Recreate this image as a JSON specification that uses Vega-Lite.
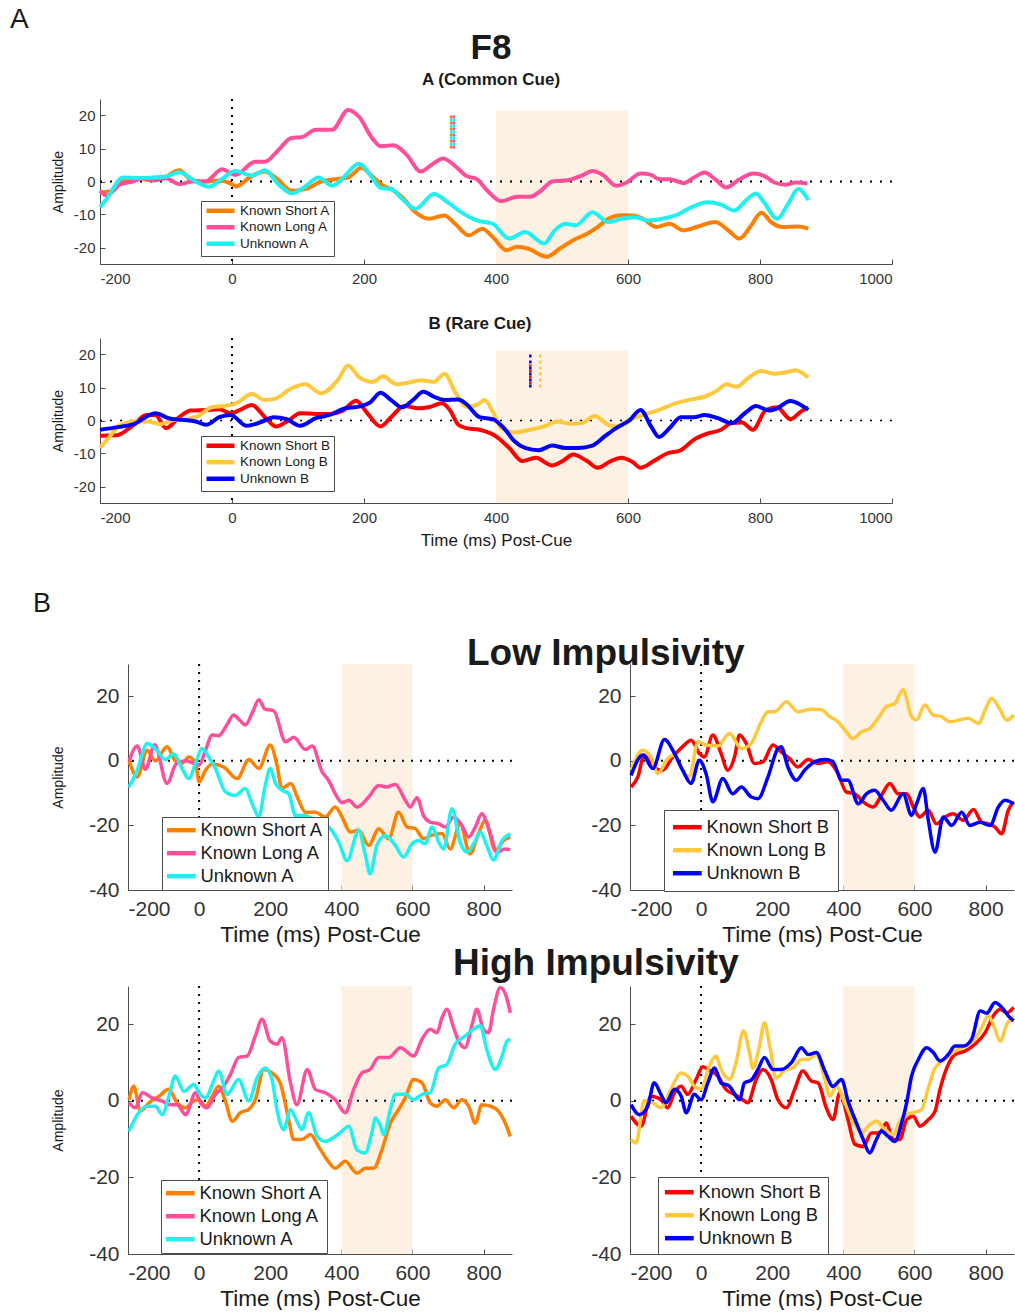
{
"$schema": "https://vega.github.io/schema/vega-lite/v6.json",
"background": "white",
"padding": {"left": 10, "top": 6, "right": 0, "bottom": 0},
"title": {"text": "A", "anchor": "start", "fontSize": 28, "fontWeight": "normal", "dx": 0, "offset": -3},
"config": {
  "font": "Liberation Sans",
  "view": {"stroke": null},
  "title": {"font": "Liberation Sans", "color": "#1a1a1a", "subtitleFont": "Liberation Sans", "subtitleColor": "#1a1a1a"},
  "axis": {"domainColor": "#4d4d4d", "tickColor": "#4d4d4d", "labelColor": "#333333", "titleColor": "#1a1a1a", "labelFont": "Liberation Sans", "titleFont": "Liberation Sans", "titleFontWeight": "normal", "grid": false, "tickSize": -5, "zindex": 1, "labelExpr": "'' + datum.value"},
  "legend": {"labelFont": "Liberation Sans", "labelColor": "#1a1a1a", "fillColor": "white", "strokeColor": "#4d4d4d", "orient": "none", "title": null},
  "line": {"interpolate": "monotone"}
},
"datasets": {
"a1": [
{"c":"Known Short A","t":-200,"v":-3.3},{"c":"Known Short A","t":-185,"v":-3},{"c":"Known Short A","t":-170,"v":-0.5},{"c":"Known Short A","t":-145,"v":1},{"c":"Known Short A","t":-125,"v":0.5},{"c":"Known Short A","t":-105,"v":1},{"c":"Known Short A","t":-80,"v":3.4},{"c":"Known Short A","t":-60,"v":0.3},{"c":"Known Short A","t":-40,"v":0},{"c":"Known Short A","t":-20,"v":0.3},{"c":"Known Short A","t":0,"v":-0.8},{"c":"Known Short A","t":6,"v":-1.5},{"c":"Known Short A","t":30,"v":1.7},{"c":"Known Short A","t":50,"v":3},{"c":"Known Short A","t":67,"v":1},{"c":"Known Short A","t":91,"v":-2.8},{"c":"Known Short A","t":111,"v":-2.3},{"c":"Known Short A","t":135,"v":0},{"c":"Known Short A","t":160,"v":0.8},{"c":"Known Short A","t":176,"v":1.2},{"c":"Known Short A","t":196,"v":4.2},{"c":"Known Short A","t":213,"v":1.5},{"c":"Known Short A","t":229,"v":-1.3},{"c":"Known Short A","t":241,"v":-2.3},{"c":"Known Short A","t":258,"v":-4.8},{"c":"Known Short A","t":278,"v":-9.3},{"c":"Known Short A","t":298,"v":-11.3},{"c":"Known Short A","t":322,"v":-10.3},{"c":"Known Short A","t":338,"v":-12.8},{"c":"Known Short A","t":359,"v":-16.3},{"c":"Known Short A","t":379,"v":-14.3},{"c":"Known Short A","t":395,"v":-16.8},{"c":"Known Short A","t":416,"v":-20.8},{"c":"Known Short A","t":432,"v":-19.8},{"c":"Known Short A","t":448,"v":-20.3},{"c":"Known Short A","t":477,"v":-22.8},{"c":"Known Short A","t":497,"v":-20.3},{"c":"Known Short A","t":517,"v":-17.8},{"c":"Known Short A","t":538,"v":-15.8},{"c":"Known Short A","t":554,"v":-13.8},{"c":"Known Short A","t":570,"v":-11.3},{"c":"Known Short A","t":590,"v":-10.2},{"c":"Known Short A","t":607,"v":-10.3},{"c":"Known Short A","t":623,"v":-11.3},{"c":"Known Short A","t":643,"v":-13.8},{"c":"Known Short A","t":663,"v":-12.8},{"c":"Known Short A","t":684,"v":-14.8},{"c":"Known Short A","t":704,"v":-13.8},{"c":"Known Short A","t":732,"v":-12.3},{"c":"Known Short A","t":753,"v":-15},{"c":"Known Short A","t":769,"v":-17.3},{"c":"Known Short A","t":786,"v":-13.5},{"c":"Known Short A","t":802,"v":-9.5},{"c":"Known Short A","t":818,"v":-12.5},{"c":"Known Short A","t":834,"v":-13.8},{"c":"Known Short A","t":858,"v":-13.6},{"c":"Known Short A","t":873,"v":-14.3},
{"c":"Known Long A","t":-200,"v":-2.8},{"c":"Known Long A","t":-190,"v":-4.3},{"c":"Known Long A","t":-169,"v":-0.8},{"c":"Known Long A","t":-150,"v":0},{"c":"Known Long A","t":-135,"v":1},{"c":"Known Long A","t":-120,"v":0.3},{"c":"Known Long A","t":-100,"v":1},{"c":"Known Long A","t":-80,"v":-0.8},{"c":"Known Long A","t":-60,"v":0},{"c":"Known Long A","t":-40,"v":0},{"c":"Known Long A","t":-15,"v":3.7},{"c":"Known Long A","t":5,"v":2},{"c":"Known Long A","t":35,"v":6},{"c":"Known Long A","t":50,"v":6},{"c":"Known Long A","t":70,"v":9.5},{"c":"Known Long A","t":90,"v":13.2},{"c":"Known Long A","t":105,"v":13.4},{"c":"Known Long A","t":127,"v":15.7},{"c":"Known Long A","t":152,"v":15.7},{"c":"Known Long A","t":176,"v":21.7},{"c":"Known Long A","t":192,"v":19.7},{"c":"Known Long A","t":213,"v":13},{"c":"Known Long A","t":225,"v":10.7},{"c":"Known Long A","t":245,"v":11},{"c":"Known Long A","t":265,"v":8},{"c":"Known Long A","t":286,"v":3},{"c":"Known Long A","t":302,"v":5},{"c":"Known Long A","t":320,"v":7},{"c":"Known Long A","t":338,"v":4.7},{"c":"Known Long A","t":355,"v":1.7},{"c":"Known Long A","t":371,"v":0.7},{"c":"Known Long A","t":387,"v":-2.8},{"c":"Known Long A","t":408,"v":-6},{"c":"Known Long A","t":432,"v":-4.6},{"c":"Known Long A","t":452,"v":-4.6},{"c":"Known Long A","t":468,"v":-2.8},{"c":"Known Long A","t":485,"v":0},{"c":"Known Long A","t":509,"v":0.4},{"c":"Known Long A","t":529,"v":1.7},{"c":"Known Long A","t":546,"v":3.2},{"c":"Known Long A","t":562,"v":2},{"c":"Known Long A","t":582,"v":-1.3},{"c":"Known Long A","t":598,"v":-0.3},{"c":"Known Long A","t":619,"v":2.4},{"c":"Known Long A","t":635,"v":2},{"c":"Known Long A","t":647,"v":0.7},{"c":"Known Long A","t":663,"v":0.7},{"c":"Known Long A","t":684,"v":-0.5},{"c":"Known Long A","t":700,"v":1.2},{"c":"Known Long A","t":716,"v":2.7},{"c":"Known Long A","t":732,"v":0.7},{"c":"Known Long A","t":749,"v":-1.8},{"c":"Known Long A","t":769,"v":0.7},{"c":"Known Long A","t":790,"v":2.4},{"c":"Known Long A","t":806,"v":1.7},{"c":"Known Long A","t":822,"v":-0.3},{"c":"Known Long A","t":838,"v":-1},{"c":"Known Long A","t":854,"v":-0.3},{"c":"Known Long A","t":872,"v":-0.6},
{"c":"Unknown A","t":-200,"v":-7.8},{"c":"Unknown A","t":-190,"v":-5.3},{"c":"Unknown A","t":-165,"v":1.2},{"c":"Unknown A","t":-140,"v":1},{"c":"Unknown A","t":-120,"v":1.2},{"c":"Unknown A","t":-100,"v":1.5},{"c":"Unknown A","t":-80,"v":2.8},{"c":"Unknown A","t":-55,"v":0},{"c":"Unknown A","t":-35,"v":-1.6},{"c":"Unknown A","t":-15,"v":0.8},{"c":"Unknown A","t":5,"v":3.2},{"c":"Unknown A","t":30,"v":1.8},{"c":"Unknown A","t":50,"v":3.4},{"c":"Unknown A","t":70,"v":-0.8},{"c":"Unknown A","t":91,"v":-3.6},{"c":"Unknown A","t":111,"v":-1.5},{"c":"Unknown A","t":131,"v":1.2},{"c":"Unknown A","t":152,"v":-1.3},{"c":"Unknown A","t":168,"v":1},{"c":"Unknown A","t":192,"v":5.4},{"c":"Unknown A","t":213,"v":1},{"c":"Unknown A","t":225,"v":-2},{"c":"Unknown A","t":241,"v":-2.3},{"c":"Unknown A","t":258,"v":-5.3},{"c":"Unknown A","t":278,"v":-8.3},{"c":"Unknown A","t":306,"v":-3.8},{"c":"Unknown A","t":327,"v":-6.3},{"c":"Unknown A","t":347,"v":-9.3},{"c":"Unknown A","t":371,"v":-11.8},{"c":"Unknown A","t":395,"v":-12.8},{"c":"Unknown A","t":420,"v":-17.3},{"c":"Unknown A","t":444,"v":-15.3},{"c":"Unknown A","t":473,"v":-18.8},{"c":"Unknown A","t":489,"v":-14.8},{"c":"Unknown A","t":505,"v":-12.8},{"c":"Unknown A","t":521,"v":-13.3},{"c":"Unknown A","t":546,"v":-9.3},{"c":"Unknown A","t":570,"v":-12.3},{"c":"Unknown A","t":590,"v":-11.3},{"c":"Unknown A","t":611,"v":-10.8},{"c":"Unknown A","t":631,"v":-11.8},{"c":"Unknown A","t":651,"v":-11.3},{"c":"Unknown A","t":672,"v":-10.3},{"c":"Unknown A","t":696,"v":-7.8},{"c":"Unknown A","t":720,"v":-6.3},{"c":"Unknown A","t":741,"v":-7},{"c":"Unknown A","t":761,"v":-8.8},{"c":"Unknown A","t":781,"v":-5.3},{"c":"Unknown A","t":794,"v":-3.6},{"c":"Unknown A","t":806,"v":-6.3},{"c":"Unknown A","t":826,"v":-11.3},{"c":"Unknown A","t":842,"v":-7},{"c":"Unknown A","t":858,"v":-2.3},{"c":"Unknown A","t":873,"v":-5.6}
],
"a2": [
{"c":"Known Short B","t":-200,"v":-4.6},{"c":"Known Short B","t":-175,"v":-4.5},{"c":"Known Short B","t":-149,"v":-1.3},{"c":"Known Short B","t":-130,"v":1.7},{"c":"Known Short B","t":-116,"v":1.7},{"c":"Known Short B","t":-100,"v":-2.3},{"c":"Known Short B","t":-80,"v":1},{"c":"Known Short B","t":-63,"v":3},{"c":"Known Short B","t":-39,"v":3.2},{"c":"Known Short B","t":-19,"v":3.4},{"c":"Known Short B","t":-2,"v":2.2},{"c":"Known Short B","t":14,"v":3.4},{"c":"Known Short B","t":30,"v":4.7},{"c":"Known Short B","t":50,"v":1},{"c":"Known Short B","t":67,"v":-1.8},{"c":"Known Short B","t":87,"v":0.2},{"c":"Known Short B","t":103,"v":2.2},{"c":"Known Short B","t":127,"v":2},{"c":"Known Short B","t":148,"v":2},{"c":"Known Short B","t":168,"v":3},{"c":"Known Short B","t":188,"v":6},{"c":"Known Short B","t":205,"v":2.2},{"c":"Known Short B","t":225,"v":-1.8},{"c":"Known Short B","t":241,"v":1},{"c":"Known Short B","t":261,"v":4.4},{"c":"Known Short B","t":282,"v":3.7},{"c":"Known Short B","t":298,"v":4},{"c":"Known Short B","t":318,"v":5.2},{"c":"Known Short B","t":330,"v":3.2},{"c":"Known Short B","t":343,"v":-1.3},{"c":"Known Short B","t":355,"v":-2.3},{"c":"Known Short B","t":375,"v":-2.8},{"c":"Known Short B","t":400,"v":-4.8},{"c":"Known Short B","t":420,"v":-8.3},{"c":"Known Short B","t":440,"v":-12.3},{"c":"Known Short B","t":460,"v":-11.3},{"c":"Known Short B","t":485,"v":-13.6},{"c":"Known Short B","t":501,"v":-12.3},{"c":"Known Short B","t":517,"v":-10.3},{"c":"Known Short B","t":538,"v":-12.3},{"c":"Known Short B","t":554,"v":-14.3},{"c":"Known Short B","t":574,"v":-12.3},{"c":"Known Short B","t":590,"v":-11.3},{"c":"Known Short B","t":607,"v":-12.6},{"c":"Known Short B","t":619,"v":-14.3},{"c":"Known Short B","t":639,"v":-12.3},{"c":"Known Short B","t":659,"v":-10},{"c":"Known Short B","t":680,"v":-9},{"c":"Known Short B","t":700,"v":-5.8},{"c":"Known Short B","t":720,"v":-4},{"c":"Known Short B","t":741,"v":-2.8},{"c":"Known Short B","t":757,"v":-0.8},{"c":"Known Short B","t":773,"v":-0.6},{"c":"Known Short B","t":789,"v":-2.8},{"c":"Known Short B","t":809,"v":3.2},{"c":"Known Short B","t":826,"v":4},{"c":"Known Short B","t":846,"v":0.4},{"c":"Known Short B","t":862,"v":2.7},{"c":"Known Short B","t":873,"v":4},
{"c":"Known Long B","t":-200,"v":-8.3},{"c":"Known Long B","t":-185,"v":-4.8},{"c":"Known Long B","t":-169,"v":-1.3},{"c":"Known Long B","t":-149,"v":-0.3},{"c":"Known Long B","t":-128,"v":-0.3},{"c":"Known Long B","t":-108,"v":-1.1},{"c":"Known Long B","t":-92,"v":0},{"c":"Known Long B","t":-71,"v":0.4},{"c":"Known Long B","t":-51,"v":1.4},{"c":"Known Long B","t":-31,"v":4},{"c":"Known Long B","t":-11,"v":4.4},{"c":"Known Long B","t":6,"v":5.2},{"c":"Known Long B","t":30,"v":8},{"c":"Known Long B","t":50,"v":6.2},{"c":"Known Long B","t":67,"v":6.7},{"c":"Known Long B","t":87,"v":9.4},{"c":"Known Long B","t":111,"v":11},{"c":"Known Long B","t":135,"v":8.2},{"c":"Known Long B","t":160,"v":12.2},{"c":"Known Long B","t":176,"v":16.7},{"c":"Known Long B","t":192,"v":13.2},{"c":"Known Long B","t":213,"v":11.7},{"c":"Known Long B","t":229,"v":13.4},{"c":"Known Long B","t":249,"v":11},{"c":"Known Long B","t":265,"v":11.4},{"c":"Known Long B","t":286,"v":12.2},{"c":"Known Long B","t":306,"v":11.7},{"c":"Known Long B","t":322,"v":14.2},{"c":"Known Long B","t":338,"v":8.7},{"c":"Known Long B","t":355,"v":4.2},{"c":"Known Long B","t":371,"v":4.7},{"c":"Known Long B","t":383,"v":6.2},{"c":"Known Long B","t":395,"v":2.7},{"c":"Known Long B","t":408,"v":-2.3},{"c":"Known Long B","t":428,"v":-3.6},{"c":"Known Long B","t":452,"v":-2.8},{"c":"Known Long B","t":473,"v":-1.8},{"c":"Known Long B","t":493,"v":-0.3},{"c":"Known Long B","t":513,"v":-1},{"c":"Known Long B","t":529,"v":-0.8},{"c":"Known Long B","t":550,"v":1.4},{"c":"Known Long B","t":570,"v":-1.3},{"c":"Known Long B","t":582,"v":-1.8},{"c":"Known Long B","t":602,"v":0.2},{"c":"Known Long B","t":623,"v":1.7},{"c":"Known Long B","t":647,"v":3.2},{"c":"Known Long B","t":672,"v":5.2},{"c":"Known Long B","t":696,"v":6.4},{"c":"Known Long B","t":716,"v":7.2},{"c":"Known Long B","t":736,"v":9.2},{"c":"Known Long B","t":749,"v":11},{"c":"Known Long B","t":765,"v":10.2},{"c":"Known Long B","t":781,"v":12.7},{"c":"Known Long B","t":802,"v":15},{"c":"Known Long B","t":822,"v":14.2},{"c":"Known Long B","t":842,"v":14.7},{"c":"Known Long B","t":854,"v":15.2},{"c":"Known Long B","t":873,"v":13},
{"c":"Unknown B","t":-200,"v":-2.8},{"c":"Unknown B","t":-173,"v":-2},{"c":"Unknown B","t":-149,"v":-1.1},{"c":"Unknown B","t":-116,"v":2.2},{"c":"Unknown B","t":-96,"v":0.7},{"c":"Unknown B","t":-76,"v":0.2},{"c":"Unknown B","t":-55,"v":-0.3},{"c":"Unknown B","t":-39,"v":-1.3},{"c":"Unknown B","t":-19,"v":1},{"c":"Unknown B","t":-2,"v":1.7},{"c":"Unknown B","t":22,"v":-1.6},{"c":"Unknown B","t":46,"v":-0.3},{"c":"Unknown B","t":63,"v":1},{"c":"Unknown B","t":83,"v":0.4},{"c":"Unknown B","t":103,"v":-1.6},{"c":"Unknown B","t":127,"v":0.7},{"c":"Unknown B","t":148,"v":1.7},{"c":"Unknown B","t":172,"v":3.7},{"c":"Unknown B","t":192,"v":4.2},{"c":"Unknown B","t":209,"v":5.4},{"c":"Unknown B","t":225,"v":8.4},{"c":"Unknown B","t":241,"v":6.2},{"c":"Unknown B","t":258,"v":4},{"c":"Unknown B","t":274,"v":6.2},{"c":"Unknown B","t":290,"v":8.7},{"c":"Unknown B","t":306,"v":7.2},{"c":"Unknown B","t":322,"v":6.2},{"c":"Unknown B","t":343,"v":6.4},{"c":"Unknown B","t":355,"v":5},{"c":"Unknown B","t":375,"v":1},{"c":"Unknown B","t":395,"v":0.4},{"c":"Unknown B","t":412,"v":-2.3},{"c":"Unknown B","t":428,"v":-6.3},{"c":"Unknown B","t":444,"v":-8.3},{"c":"Unknown B","t":465,"v":-9},{"c":"Unknown B","t":485,"v":-7.6},{"c":"Unknown B","t":505,"v":-8.3},{"c":"Unknown B","t":525,"v":-8.3},{"c":"Unknown B","t":546,"v":-7.6},{"c":"Unknown B","t":566,"v":-4.6},{"c":"Unknown B","t":582,"v":-2.3},{"c":"Unknown B","t":602,"v":0},{"c":"Unknown B","t":619,"v":3.2},{"c":"Unknown B","t":635,"v":-1.8},{"c":"Unknown B","t":647,"v":-5},{"c":"Unknown B","t":663,"v":-2.3},{"c":"Unknown B","t":680,"v":1},{"c":"Unknown B","t":700,"v":1},{"c":"Unknown B","t":716,"v":1.7},{"c":"Unknown B","t":736,"v":0.7},{"c":"Unknown B","t":757,"v":-0.8},{"c":"Unknown B","t":777,"v":2.2},{"c":"Unknown B","t":794,"v":4.4},{"c":"Unknown B","t":814,"v":3},{"c":"Unknown B","t":826,"v":3.7},{"c":"Unknown B","t":846,"v":5.9},{"c":"Unknown B","t":862,"v":4.7},{"c":"Unknown B","t":873,"v":3.2}
],
"la": [
{"c":"Known Short A","t":-197,"v":0},{"c":"Known Short A","t":-174,"v":-5},{"c":"Known Short A","t":-146,"v":3.3},{"c":"Known Short A","t":-123,"v":0},{"c":"Known Short A","t":-90,"v":4.4},{"c":"Known Short A","t":-67,"v":0},{"c":"Known Short A","t":-48,"v":-0.8},{"c":"Known Short A","t":-29,"v":1.2},{"c":"Known Short A","t":-10,"v":-0.6},{"c":"Known Short A","t":0,"v":-6.5},{"c":"Known Short A","t":18,"v":-2.9},{"c":"Known Short A","t":37,"v":-1},{"c":"Known Short A","t":69,"v":-1.9},{"c":"Known Short A","t":107,"v":-5.5},{"c":"Known Short A","t":140,"v":0.4},{"c":"Known Short A","t":168,"v":-2.4},{"c":"Known Short A","t":200,"v":4.9},{"c":"Known Short A","t":219,"v":-1.3},{"c":"Known Short A","t":233,"v":-8.6},{"c":"Known Short A","t":257,"v":-7},{"c":"Known Short A","t":280,"v":-12.2},{"c":"Known Short A","t":299,"v":-15.9},{"c":"Known Short A","t":327,"v":-15.9},{"c":"Known Short A","t":355,"v":-17.4},{"c":"Known Short A","t":383,"v":-14.3},{"c":"Known Short A","t":402,"v":-17.4},{"c":"Known Short A","t":425,"v":-22},{"c":"Known Short A","t":449,"v":-21.5},{"c":"Known Short A","t":477,"v":-26.2},{"c":"Known Short A","t":505,"v":-21},{"c":"Known Short A","t":533,"v":-24.1},{"c":"Known Short A","t":561,"v":-15.9},{"c":"Known Short A","t":585,"v":-20.5},{"c":"Known Short A","t":608,"v":-21},{"c":"Known Short A","t":631,"v":-24.1},{"c":"Known Short A","t":655,"v":-23},{"c":"Known Short A","t":683,"v":-22.5},{"c":"Known Short A","t":706,"v":-27.3},{"c":"Known Short A","t":734,"v":-19.5},{"c":"Known Short A","t":762,"v":-28.8},{"c":"Known Short A","t":786,"v":-22.5},{"c":"Known Short A","t":805,"v":-18.4},{"c":"Known Short A","t":833,"v":-27.8},{"c":"Known Short A","t":856,"v":-24.7},{"c":"Known Short A","t":875,"v":-23.6},
{"c":"Known Long A","t":-197,"v":0},{"c":"Known Long A","t":-174,"v":4.6},{"c":"Known Long A","t":-151,"v":-2.6},{"c":"Known Long A","t":-125,"v":5},{"c":"Known Long A","t":-90,"v":-7},{"c":"Known Long A","t":-65,"v":-1},{"c":"Known Long A","t":-38,"v":0},{"c":"Known Long A","t":-10,"v":-1},{"c":"Known Long A","t":0,"v":-1.3},{"c":"Known Long A","t":18,"v":3.3},{"c":"Known Long A","t":37,"v":8},{"c":"Known Long A","t":55,"v":7.8},{"c":"Known Long A","t":80,"v":11.5},{"c":"Known Long A","t":97,"v":14.2},{"c":"Known Long A","t":115,"v":12.5},{"c":"Known Long A","t":130,"v":11.1},{"c":"Known Long A","t":150,"v":15},{"c":"Known Long A","t":168,"v":18.9},{"c":"Known Long A","t":185,"v":16},{"c":"Known Long A","t":196,"v":15.8},{"c":"Known Long A","t":210,"v":15.5},{"c":"Known Long A","t":243,"v":5.9},{"c":"Known Long A","t":266,"v":7.3},{"c":"Known Long A","t":299,"v":3.5},{"c":"Known Long A","t":318,"v":4.6},{"c":"Known Long A","t":346,"v":-3.4},{"c":"Known Long A","t":364,"v":-6},{"c":"Known Long A","t":383,"v":-10.2},{"c":"Known Long A","t":402,"v":-13},{"c":"Known Long A","t":421,"v":-12.2},{"c":"Known Long A","t":444,"v":-14.3},{"c":"Known Long A","t":477,"v":-11.2},{"c":"Known Long A","t":505,"v":-7.6},{"c":"Known Long A","t":528,"v":-8.1},{"c":"Known Long A","t":552,"v":-7.3},{"c":"Known Long A","t":580,"v":-12.2},{"c":"Known Long A","t":594,"v":-14.3},{"c":"Known Long A","t":613,"v":-11.4},{"c":"Known Long A","t":631,"v":-16.9},{"c":"Known Long A","t":650,"v":-19},{"c":"Known Long A","t":674,"v":-19.5},{"c":"Known Long A","t":692,"v":-20.5},{"c":"Known Long A","t":716,"v":-17.4},{"c":"Known Long A","t":739,"v":-20},{"c":"Known Long A","t":758,"v":-23.6},{"c":"Known Long A","t":777,"v":-20.5},{"c":"Known Long A","t":795,"v":-16.4},{"c":"Known Long A","t":819,"v":-22.6},{"c":"Known Long A","t":837,"v":-28.3},{"c":"Known Long A","t":861,"v":-27.3},{"c":"Known Long A","t":875,"v":-27.5},
{"c":"Unknown A","t":-197,"v":-8.1},{"c":"Unknown A","t":-174,"v":-2.9},{"c":"Unknown A","t":-146,"v":5.4},{"c":"Unknown A","t":-123,"v":3.8},{"c":"Unknown A","t":-95,"v":0.4},{"c":"Unknown A","t":-71,"v":2.1},{"c":"Unknown A","t":-48,"v":-2.4},{"c":"Unknown A","t":-29,"v":-5.5},{"c":"Unknown A","t":-10,"v":-0.8},{"c":"Unknown A","t":8,"v":3.8},{"c":"Unknown A","t":27,"v":1.2},{"c":"Unknown A","t":46,"v":-2.4},{"c":"Unknown A","t":74,"v":-9.6},{"c":"Unknown A","t":102,"v":-10.7},{"c":"Unknown A","t":130,"v":-8.6},{"c":"Unknown A","t":149,"v":-13.3},{"c":"Unknown A","t":168,"v":-17.2},{"c":"Unknown A","t":186,"v":-7.6},{"c":"Unknown A","t":200,"v":-2.4},{"c":"Unknown A","t":215,"v":-7},{"c":"Unknown A","t":233,"v":-9.1},{"c":"Unknown A","t":252,"v":-10.2},{"c":"Unknown A","t":271,"v":-16.9},{"c":"Unknown A","t":294,"v":-16.9},{"c":"Unknown A","t":318,"v":-17.9},{"c":"Unknown A","t":336,"v":-19.5},{"c":"Unknown A","t":364,"v":-20.5},{"c":"Unknown A","t":393,"v":-25.2},{"c":"Unknown A","t":416,"v":-30.9},{"c":"Unknown A","t":449,"v":-21.6},{"c":"Unknown A","t":467,"v":-28.9},{"c":"Unknown A","t":481,"v":-35},{"c":"Unknown A","t":500,"v":-26.2},{"c":"Unknown A","t":524,"v":-23.1},{"c":"Unknown A","t":552,"v":-26.2},{"c":"Unknown A","t":575,"v":-29.8},{"c":"Unknown A","t":599,"v":-25.7},{"c":"Unknown A","t":617,"v":-24.7},{"c":"Unknown A","t":636,"v":-25.7},{"c":"Unknown A","t":655,"v":-20.5},{"c":"Unknown A","t":674,"v":-25.2},{"c":"Unknown A","t":688,"v":-27.3},{"c":"Unknown A","t":711,"v":-14.8},{"c":"Unknown A","t":734,"v":-25.2},{"c":"Unknown A","t":753,"v":-28.3},{"c":"Unknown A","t":777,"v":-24.7},{"c":"Unknown A","t":791,"v":-22},{"c":"Unknown A","t":809,"v":-26.2},{"c":"Unknown A","t":828,"v":-30.7},{"c":"Unknown A","t":852,"v":-24.7},{"c":"Unknown A","t":875,"v":-22.6}
],
"lb": [
{"c":"Known Short B","t":-197,"v":-8.1},{"c":"Known Short B","t":-178,"v":-5},{"c":"Known Short B","t":-160,"v":1.8},{"c":"Known Short B","t":-136,"v":-1.9},{"c":"Known Short B","t":-108,"v":-2.9},{"c":"Known Short B","t":-80,"v":1.2},{"c":"Known Short B","t":-52,"v":4.4},{"c":"Known Short B","t":-28,"v":6.4},{"c":"Known Short B","t":-5,"v":2.3},{"c":"Known Short B","t":9,"v":1.2},{"c":"Known Short B","t":33,"v":8},{"c":"Known Short B","t":56,"v":2.3},{"c":"Known Short B","t":75,"v":-2.9},{"c":"Known Short B","t":94,"v":1.2},{"c":"Known Short B","t":108,"v":8},{"c":"Known Short B","t":127,"v":5.4},{"c":"Known Short B","t":150,"v":-0.8},{"c":"Known Short B","t":174,"v":-0.3},{"c":"Known Short B","t":202,"v":4.9},{"c":"Known Short B","t":225,"v":2.8},{"c":"Known Short B","t":249,"v":0.7},{"c":"Known Short B","t":272,"v":-1.9},{"c":"Known Short B","t":301,"v":0.4},{"c":"Known Short B","t":329,"v":-0.8},{"c":"Known Short B","t":357,"v":-0.3},{"c":"Known Short B","t":385,"v":-3.9},{"c":"Known Short B","t":408,"v":-9.6},{"c":"Known Short B","t":432,"v":-10.2},{"c":"Known Short B","t":456,"v":-12.7},{"c":"Known Short B","t":484,"v":-14.3},{"c":"Known Short B","t":507,"v":-10.7},{"c":"Known Short B","t":531,"v":-7},{"c":"Known Short B","t":554,"v":-10.2},{"c":"Known Short B","t":578,"v":-10.2},{"c":"Known Short B","t":597,"v":-14.3},{"c":"Known Short B","t":615,"v":-17.4},{"c":"Known Short B","t":639,"v":-15.3},{"c":"Known Short B","t":662,"v":-19.5},{"c":"Known Short B","t":686,"v":-17.4},{"c":"Known Short B","t":709,"v":-16.4},{"c":"Known Short B","t":737,"v":-18.4},{"c":"Known Short B","t":766,"v":-15.1},{"c":"Known Short B","t":789,"v":-19},{"c":"Known Short B","t":808,"v":-19.5},{"c":"Known Short B","t":827,"v":-20.5},{"c":"Known Short B","t":845,"v":-22.6},{"c":"Known Short B","t":864,"v":-15.3},{"c":"Known Short B","t":879,"v":-12.7},
{"c":"Known Long B","t":-197,"v":-2.9},{"c":"Known Long B","t":-164,"v":3.3},{"c":"Known Long B","t":-141,"v":1.2},{"c":"Known Long B","t":-122,"v":-3.9},{"c":"Known Long B","t":-94,"v":0.7},{"c":"Known Long B","t":-75,"v":1.8},{"c":"Known Long B","t":-56,"v":-2.4},{"c":"Known Long B","t":-33,"v":-5},{"c":"Known Long B","t":-9,"v":5.9},{"c":"Known Long B","t":14,"v":4.9},{"c":"Known Long B","t":47,"v":4.6},{"c":"Known Long B","t":80,"v":8.5},{"c":"Known Long B","t":113,"v":3.8},{"c":"Known Long B","t":141,"v":5.4},{"c":"Known Long B","t":169,"v":12.1},{"c":"Known Long B","t":188,"v":15.2},{"c":"Known Long B","t":207,"v":15.2},{"c":"Known Long B","t":240,"v":18.3},{"c":"Known Long B","t":272,"v":15.2},{"c":"Known Long B","t":310,"v":16},{"c":"Known Long B","t":338,"v":15.8},{"c":"Known Long B","t":362,"v":13.7},{"c":"Known Long B","t":385,"v":12.1},{"c":"Known Long B","t":408,"v":9},{"c":"Known Long B","t":427,"v":6.9},{"c":"Known Long B","t":451,"v":9},{"c":"Known Long B","t":474,"v":10},{"c":"Known Long B","t":498,"v":13.2},{"c":"Known Long B","t":521,"v":16.8},{"c":"Known Long B","t":545,"v":17.8},{"c":"Known Long B","t":568,"v":22},{"c":"Known Long B","t":592,"v":13.7},{"c":"Known Long B","t":606,"v":12.7},{"c":"Known Long B","t":629,"v":17.3},{"c":"Known Long B","t":653,"v":14.2},{"c":"Known Long B","t":676,"v":13.7},{"c":"Known Long B","t":700,"v":12.1},{"c":"Known Long B","t":723,"v":12.6},{"c":"Known Long B","t":752,"v":13.2},{"c":"Known Long B","t":780,"v":11.6},{"c":"Known Long B","t":803,"v":16.8},{"c":"Known Long B","t":817,"v":19.4},{"c":"Known Long B","t":836,"v":16.8},{"c":"Known Long B","t":860,"v":12.6},{"c":"Known Long B","t":879,"v":14.2},
{"c":"Unknown B","t":-197,"v":-4.5},{"c":"Unknown B","t":-164,"v":1.8},{"c":"Unknown B","t":-136,"v":-2.4},{"c":"Unknown B","t":-103,"v":6.6},{"c":"Unknown B","t":-75,"v":2.3},{"c":"Unknown B","t":-52,"v":-2.9},{"c":"Unknown B","t":-28,"v":-7},{"c":"Unknown B","t":-5,"v":0.2},{"c":"Unknown B","t":14,"v":-4},{"c":"Unknown B","t":33,"v":-12.7},{"c":"Unknown B","t":61,"v":-5.5},{"c":"Unknown B","t":89,"v":-10.2},{"c":"Unknown B","t":113,"v":-8.1},{"c":"Unknown B","t":141,"v":-11.2},{"c":"Unknown B","t":160,"v":-11.7},{"c":"Unknown B","t":188,"v":-5},{"c":"Unknown B","t":216,"v":3.8},{"c":"Unknown B","t":225,"v":4.4},{"c":"Unknown B","t":244,"v":-1.9},{"c":"Unknown B","t":268,"v":-6},{"c":"Unknown B","t":291,"v":-2.9},{"c":"Unknown B","t":319,"v":-0.3},{"c":"Unknown B","t":348,"v":0.4},{"c":"Unknown B","t":371,"v":-0.3},{"c":"Unknown B","t":395,"v":-6},{"c":"Unknown B","t":413,"v":-6},{"c":"Unknown B","t":442,"v":-13.3},{"c":"Unknown B","t":465,"v":-10.2},{"c":"Unknown B","t":488,"v":-9.1},{"c":"Unknown B","t":512,"v":-12.2},{"c":"Unknown B","t":535,"v":-15.3},{"c":"Unknown B","t":568,"v":-10.2},{"c":"Unknown B","t":592,"v":-16.9},{"c":"Unknown B","t":606,"v":-13.3},{"c":"Unknown B","t":625,"v":-8.6},{"c":"Unknown B","t":639,"v":-18.4},{"c":"Unknown B","t":658,"v":-28.3},{"c":"Unknown B","t":681,"v":-17.4},{"c":"Unknown B","t":705,"v":-20},{"c":"Unknown B","t":733,"v":-15.9},{"c":"Unknown B","t":756,"v":-20},{"c":"Unknown B","t":784,"v":-19},{"c":"Unknown B","t":813,"v":-20},{"c":"Unknown B","t":836,"v":-14.3},{"c":"Unknown B","t":855,"v":-12.2},{"c":"Unknown B","t":879,"v":-13.3}
],
"ha": [
{"c":"Known Short A","t":-197,"v":0.3},{"c":"Known Short A","t":-184,"v":3.8},{"c":"Known Short A","t":-165,"v":-2.7},{"c":"Known Short A","t":-141,"v":-0.5},{"c":"Known Short A","t":-113,"v":1.2},{"c":"Known Short A","t":-85,"v":3},{"c":"Known Short A","t":-62,"v":-0.5},{"c":"Known Short A","t":-38,"v":-1.8},{"c":"Known Short A","t":-15,"v":0},{"c":"Known Short A","t":0,"v":0.3},{"c":"Known Short A","t":18,"v":-1.4},{"c":"Known Short A","t":37,"v":1.2},{"c":"Known Short A","t":55,"v":3.8},{"c":"Known Short A","t":74,"v":-0.1},{"c":"Known Short A","t":93,"v":-5.3},{"c":"Known Short A","t":116,"v":-3.1},{"c":"Known Short A","t":140,"v":-2.2},{"c":"Known Short A","t":158,"v":0.3},{"c":"Known Short A","t":182,"v":8.2},{"c":"Known Short A","t":205,"v":7.3},{"c":"Known Short A","t":228,"v":4.7},{"c":"Known Short A","t":252,"v":-4.9},{"c":"Known Short A","t":266,"v":-10.1},{"c":"Known Short A","t":289,"v":-10.1},{"c":"Known Short A","t":313,"v":-8.8},{"c":"Known Short A","t":336,"v":-11.9},{"c":"Known Short A","t":360,"v":-15.4},{"c":"Known Short A","t":383,"v":-17.6},{"c":"Known Short A","t":411,"v":-15.8},{"c":"Known Short A","t":444,"v":-18.9},{"c":"Known Short A","t":467,"v":-17.6},{"c":"Known Short A","t":491,"v":-17.6},{"c":"Known Short A","t":514,"v":-12.8},{"c":"Known Short A","t":538,"v":-5.8},{"c":"Known Short A","t":561,"v":-2.3},{"c":"Known Short A","t":580,"v":0.8},{"c":"Known Short A","t":603,"v":5.6},{"c":"Known Short A","t":627,"v":4.7},{"c":"Known Short A","t":650,"v":-0.5},{"c":"Known Short A","t":669,"v":-1.4},{"c":"Known Short A","t":692,"v":0.3},{"c":"Known Short A","t":716,"v":-1.8},{"c":"Known Short A","t":739,"v":0.3},{"c":"Known Short A","t":758,"v":-1.4},{"c":"Known Short A","t":777,"v":-5.8},{"c":"Known Short A","t":795,"v":-1},{"c":"Known Short A","t":819,"v":-1.4},{"c":"Known Short A","t":842,"v":-2.7},{"c":"Known Short A","t":861,"v":-5.8},{"c":"Known Short A","t":875,"v":-9.3},
{"c":"Known Long A","t":-197,"v":-0.5},{"c":"Known Long A","t":-179,"v":-1.8},{"c":"Known Long A","t":-160,"v":2.1},{"c":"Known Long A","t":-132,"v":0.8},{"c":"Known Long A","t":-104,"v":-0.1},{"c":"Known Long A","t":-81,"v":-1},{"c":"Known Long A","t":-62,"v":-1},{"c":"Known Long A","t":-38,"v":-3.6},{"c":"Known Long A","t":-10,"v":2.1},{"c":"Known Long A","t":4,"v":-0.5},{"c":"Known Long A","t":22,"v":-1.8},{"c":"Known Long A","t":46,"v":1.7},{"c":"Known Long A","t":69,"v":3.8},{"c":"Known Long A","t":88,"v":6.9},{"c":"Known Long A","t":111,"v":11.3},{"c":"Known Long A","t":135,"v":11.7},{"c":"Known Long A","t":158,"v":16.9},{"c":"Known Long A","t":177,"v":21.3},{"c":"Known Long A","t":200,"v":15.6},{"c":"Known Long A","t":219,"v":14.8},{"c":"Known Long A","t":233,"v":16.5},{"c":"Known Long A","t":257,"v":4.7},{"c":"Known Long A","t":275,"v":-1},{"c":"Known Long A","t":304,"v":8.2},{"c":"Known Long A","t":327,"v":3},{"c":"Known Long A","t":355,"v":2.1},{"c":"Known Long A","t":383,"v":0.3},{"c":"Known Long A","t":411,"v":-3.1},{"c":"Known Long A","t":435,"v":3},{"c":"Known Long A","t":458,"v":7.3},{"c":"Known Long A","t":481,"v":8.2},{"c":"Known Long A","t":505,"v":11.3},{"c":"Known Long A","t":533,"v":11.3},{"c":"Known Long A","t":566,"v":13.9},{"c":"Known Long A","t":603,"v":11.7},{"c":"Known Long A","t":627,"v":16.1},{"c":"Known Long A","t":650,"v":18.7},{"c":"Known Long A","t":669,"v":17.8},{"c":"Known Long A","t":683,"v":21.7},{"c":"Known Long A","t":697,"v":23.9},{"c":"Known Long A","t":716,"v":19.1},{"c":"Known Long A","t":730,"v":15.6},{"c":"Known Long A","t":748,"v":13.9},{"c":"Known Long A","t":767,"v":19.6},{"c":"Known Long A","t":781,"v":23.9},{"c":"Known Long A","t":800,"v":18.6},{"c":"Known Long A","t":814,"v":17.8},{"c":"Known Long A","t":828,"v":23.9},{"c":"Known Long A","t":847,"v":29.6},{"c":"Known Long A","t":866,"v":26.6},{"c":"Known Long A","t":875,"v":23},
{"c":"Unknown A","t":-197,"v":-7.9},{"c":"Unknown A","t":-170,"v":-3.1},{"c":"Unknown A","t":-146,"v":-1.4},{"c":"Unknown A","t":-123,"v":-1.4},{"c":"Unknown A","t":-104,"v":-3.6},{"c":"Unknown A","t":-85,"v":1.2},{"c":"Unknown A","t":-67,"v":6.5},{"c":"Unknown A","t":-43,"v":2.5},{"c":"Unknown A","t":-15,"v":4.3},{"c":"Unknown A","t":0,"v":2.1},{"c":"Unknown A","t":18,"v":0.8},{"c":"Unknown A","t":41,"v":5.2},{"c":"Unknown A","t":55,"v":7.8},{"c":"Unknown A","t":79,"v":1.7},{"c":"Unknown A","t":111,"v":5.6},{"c":"Unknown A","t":140,"v":0},{"c":"Unknown A","t":163,"v":6},{"c":"Unknown A","t":186,"v":8.6},{"c":"Unknown A","t":205,"v":5.6},{"c":"Unknown A","t":219,"v":-2.3},{"c":"Unknown A","t":238,"v":-7.5},{"c":"Unknown A","t":257,"v":-2.3},{"c":"Unknown A","t":275,"v":-5.3},{"c":"Unknown A","t":289,"v":-7.5},{"c":"Unknown A","t":308,"v":-3.1},{"c":"Unknown A","t":332,"v":-9.3},{"c":"Unknown A","t":355,"v":-10.6},{"c":"Unknown A","t":378,"v":-9.6},{"c":"Unknown A","t":402,"v":-7.9},{"c":"Unknown A","t":421,"v":-6.6},{"c":"Unknown A","t":444,"v":-12.8},{"c":"Unknown A","t":467,"v":-13.6},{"c":"Unknown A","t":486,"v":-8.3},{"c":"Unknown A","t":496,"v":-4.5},{"c":"Unknown A","t":510,"v":-6.6},{"c":"Unknown A","t":519,"v":-8.8},{"c":"Unknown A","t":538,"v":-2.2},{"c":"Unknown A","t":552,"v":1.7},{"c":"Unknown A","t":580,"v":1.7},{"c":"Unknown A","t":603,"v":0.3},{"c":"Unknown A","t":627,"v":1.7},{"c":"Unknown A","t":650,"v":2.1},{"c":"Unknown A","t":674,"v":8.6},{"c":"Unknown A","t":697,"v":9.5},{"c":"Unknown A","t":720,"v":14.8},{"c":"Unknown A","t":748,"v":16.9},{"c":"Unknown A","t":777,"v":19.1},{"c":"Unknown A","t":791,"v":19.6},{"c":"Unknown A","t":809,"v":13.4},{"c":"Unknown A","t":833,"v":8.2},{"c":"Unknown A","t":852,"v":11.7},{"c":"Unknown A","t":866,"v":15.6},{"c":"Unknown A","t":875,"v":16.1}
],
"hb": [
{"c":"Known Short B","t":-197,"v":-4},{"c":"Known Short B","t":-169,"v":-6.6},{"c":"Known Short B","t":-141,"v":1.2},{"c":"Known Short B","t":-113,"v":0.3},{"c":"Known Short B","t":-94,"v":-1.8},{"c":"Known Short B","t":-75,"v":2.1},{"c":"Known Short B","t":-56,"v":3.8},{"c":"Known Short B","t":-38,"v":1.7},{"c":"Known Short B","t":-14,"v":5.6},{"c":"Known Short B","t":5,"v":8.9},{"c":"Known Short B","t":23,"v":8},{"c":"Known Short B","t":47,"v":6.5},{"c":"Known Short B","t":70,"v":3},{"c":"Known Short B","t":94,"v":1.7},{"c":"Known Short B","t":117,"v":0.3},{"c":"Known Short B","t":131,"v":-0.5},{"c":"Known Short B","t":155,"v":5.6},{"c":"Known Short B","t":174,"v":8.2},{"c":"Known Short B","t":197,"v":5.6},{"c":"Known Short B","t":216,"v":0.3},{"c":"Known Short B","t":240,"v":-1.8},{"c":"Known Short B","t":263,"v":3},{"c":"Known Short B","t":286,"v":7.8},{"c":"Known Short B","t":310,"v":5.2},{"c":"Known Short B","t":329,"v":4.7},{"c":"Known Short B","t":352,"v":-1.8},{"c":"Known Short B","t":371,"v":-4.9},{"c":"Known Short B","t":390,"v":2.1},{"c":"Known Short B","t":413,"v":-4.9},{"c":"Known Short B","t":432,"v":-11.3},{"c":"Known Short B","t":456,"v":-11.9},{"c":"Known Short B","t":479,"v":-8.4},{"c":"Known Short B","t":502,"v":-8.4},{"c":"Known Short B","t":521,"v":-5.8},{"c":"Known Short B","t":540,"v":-10.1},{"c":"Known Short B","t":559,"v":-10.1},{"c":"Known Short B","t":578,"v":-4.9},{"c":"Known Short B","t":597,"v":-4},{"c":"Known Short B","t":615,"v":-6.6},{"c":"Known Short B","t":639,"v":-4.9},{"c":"Known Short B","t":658,"v":-2.7},{"c":"Known Short B","t":672,"v":3},{"c":"Known Short B","t":691,"v":8.6},{"c":"Known Short B","t":714,"v":12.1},{"c":"Known Short B","t":742,"v":13},{"c":"Known Short B","t":770,"v":14.8},{"c":"Known Short B","t":799,"v":17.8},{"c":"Known Short B","t":822,"v":22.2},{"c":"Known Short B","t":841,"v":23.9},{"c":"Known Short B","t":860,"v":23},{"c":"Known Short B","t":879,"v":24.4},
{"c":"Known Long B","t":-197,"v":-10.1},{"c":"Known Long B","t":-183,"v":-11},{"c":"Known Long B","t":-160,"v":0},{"c":"Known Long B","t":-136,"v":-0.5},{"c":"Known Long B","t":-113,"v":-1.8},{"c":"Known Long B","t":-85,"v":3},{"c":"Known Long B","t":-56,"v":7.3},{"c":"Known Long B","t":-38,"v":6.5},{"c":"Known Long B","t":-19,"v":3.8},{"c":"Known Long B","t":0,"v":3},{"c":"Known Long B","t":23,"v":9.1},{"c":"Known Long B","t":42,"v":11.7},{"c":"Known Long B","t":56,"v":8.3},{"c":"Known Long B","t":80,"v":5.6},{"c":"Known Long B","t":99,"v":10.3},{"c":"Known Long B","t":119,"v":18.3},{"c":"Known Long B","t":136,"v":12.6},{"c":"Known Long B","t":146,"v":8.5},{"c":"Known Long B","t":164,"v":14.3},{"c":"Known Long B","t":178,"v":20.4},{"c":"Known Long B","t":193,"v":14.3},{"c":"Known Long B","t":211,"v":6},{"c":"Known Long B","t":235,"v":8},{"c":"Known Long B","t":258,"v":8.6},{"c":"Known Long B","t":282,"v":10.8},{"c":"Known Long B","t":301,"v":10.8},{"c":"Known Long B","t":324,"v":12.1},{"c":"Known Long B","t":348,"v":5.6},{"c":"Known Long B","t":362,"v":1.2},{"c":"Known Long B","t":380,"v":3.8},{"c":"Known Long B","t":404,"v":-0.5},{"c":"Known Long B","t":427,"v":-5.3},{"c":"Known Long B","t":451,"v":-8.4},{"c":"Known Long B","t":470,"v":-6.6},{"c":"Known Long B","t":493,"v":-5.3},{"c":"Known Long B","t":517,"v":-7.5},{"c":"Known Long B","t":540,"v":-8.8},{"c":"Known Long B","t":559,"v":-5.3},{"c":"Known Long B","t":578,"v":-3.6},{"c":"Known Long B","t":597,"v":-3.1},{"c":"Known Long B","t":620,"v":-2.3},{"c":"Known Long B","t":639,"v":3.4},{"c":"Known Long B","t":658,"v":8.6},{"c":"Known Long B","t":686,"v":10.8},{"c":"Known Long B","t":714,"v":13},{"c":"Known Long B","t":742,"v":14.3},{"c":"Known Long B","t":770,"v":16.1},{"c":"Known Long B","t":789,"v":19.1},{"c":"Known Long B","t":808,"v":22.2},{"c":"Known Long B","t":827,"v":18.6},{"c":"Known Long B","t":841,"v":15.6},{"c":"Known Long B","t":860,"v":20},{"c":"Known Long B","t":879,"v":22.2},
{"c":"Unknown B","t":-197,"v":-1},{"c":"Unknown B","t":-174,"v":-3.6},{"c":"Unknown B","t":-150,"v":-1.4},{"c":"Unknown B","t":-132,"v":4.7},{"c":"Unknown B","t":-113,"v":1.7},{"c":"Unknown B","t":-99,"v":-0.5},{"c":"Unknown B","t":-75,"v":3},{"c":"Unknown B","t":-56,"v":1.2},{"c":"Unknown B","t":-42,"v":-3.1},{"c":"Unknown B","t":-19,"v":1.7},{"c":"Unknown B","t":0,"v":0.3},{"c":"Unknown B","t":19,"v":4.7},{"c":"Unknown B","t":38,"v":8.6},{"c":"Unknown B","t":56,"v":4.7},{"c":"Unknown B","t":80,"v":3.8},{"c":"Unknown B","t":108,"v":0.3},{"c":"Unknown B","t":122,"v":4.7},{"c":"Unknown B","t":141,"v":5.4},{"c":"Unknown B","t":160,"v":8.2},{"c":"Unknown B","t":178,"v":11.3},{"c":"Unknown B","t":202,"v":8.2},{"c":"Unknown B","t":225,"v":8.2},{"c":"Unknown B","t":254,"v":10},{"c":"Unknown B","t":282,"v":13.9},{"c":"Unknown B","t":301,"v":12.1},{"c":"Unknown B","t":324,"v":12.6},{"c":"Unknown B","t":348,"v":7.8},{"c":"Unknown B","t":371,"v":3.8},{"c":"Unknown B","t":395,"v":5.6},{"c":"Unknown B","t":413,"v":0},{"c":"Unknown B","t":437,"v":-5.8},{"c":"Unknown B","t":456,"v":-10.1},{"c":"Unknown B","t":474,"v":-13.6},{"c":"Unknown B","t":493,"v":-10.1},{"c":"Unknown B","t":507,"v":-7.9},{"c":"Unknown B","t":526,"v":-9.3},{"c":"Unknown B","t":545,"v":-10.6},{"c":"Unknown B","t":564,"v":-5.8},{"c":"Unknown B","t":578,"v":-0.5},{"c":"Unknown B","t":592,"v":6.5},{"c":"Unknown B","t":611,"v":10.8},{"c":"Unknown B","t":634,"v":13.9},{"c":"Unknown B","t":653,"v":12.6},{"c":"Unknown B","t":672,"v":10.4},{"c":"Unknown B","t":695,"v":12.1},{"c":"Unknown B","t":714,"v":14.3},{"c":"Unknown B","t":738,"v":14.3},{"c":"Unknown B","t":761,"v":16.1},{"c":"Unknown B","t":785,"v":23.5},{"c":"Unknown B","t":803,"v":22.9},{"c":"Unknown B","t":827,"v":25.7},{"c":"Unknown B","t":846,"v":24.4},{"c":"Unknown B","t":864,"v":22.2},{"c":"Unknown B","t":879,"v":20.9}
]
},
"resolve": {"scale": {"x": "independent", "y": "independent", "color": "independent"}, "legend": {"color": "independent"}},
"spacing": 42,
"vconcat": [
{
  "spacing": 0,
  "resolve": {"scale": {"x": "independent", "y": "independent", "color": "independent"}, "legend": {"color": "independent"}},
  "hconcat": [
  {"width": 41, "height": 1, "data": {"values": []}, "mark": "point"},
  {
  "spacing": 29,
  "resolve": {"scale": {"x": "independent", "y": "independent", "color": "independent"}, "legend": {"color": "independent"}},
  "vconcat": [
  {
    "width": 792, "height": 165,
    "title": {"text": "F8", "subtitle": "A (Common Cue)", "fontSize": 35, "fontWeight": "bold", "subtitleFontSize": 17, "subtitleFontWeight": "bold", "subtitlePadding": 6, "anchor": "middle", "frame": "group", "offset": 10, "dx": -5},
    "layer": [
      {"data": {"values": [{}]}, "mark": {"type": "rect", "color": "#FDF1E4"}, "encoding": {"x": {"datum": 400, "type": "quantitative"}, "x2": {"datum": 600}, "y": {"datum": 21.5, "type": "quantitative"}, "y2": {"datum": -25}}},
      {"data": {"values": [{}]}, "mark": {"type": "rule", "color": "black", "strokeDash": [2, 8], "strokeWidth": 2}, "encoding": {"y": {"datum": 0, "type": "quantitative"}}},
      {"data": {"values": [{}]}, "mark": {"type": "rule", "color": "black", "strokeDash": [2, 6], "strokeWidth": 2}, "encoding": {"x": {"datum": 0, "type": "quantitative"}}},
      {"data": {"values": [{}]}, "mark": {"type": "rule", "color": "#FF8000", "strokeDash": [3, 3], "strokeWidth": 2.5}, "encoding": {"x": {"datum": 332, "type": "quantitative"}, "y": {"datum": 10, "type": "quantitative"}, "y2": {"datum": 20}}},
      {"data": {"values": [{}]}, "mark": {"type": "rule", "color": "#20F0F0", "strokeDash": [3, 3], "strokeDashOffset": 3, "strokeWidth": 2.5}, "encoding": {"x": {"datum": 332, "type": "quantitative"}, "y": {"datum": 10, "type": "quantitative"}, "y2": {"datum": 20}}},
      {"data": {"values": [{}]}, "mark": {"type": "rule", "color": "#FF4F9A", "strokeDash": [3, 3], "strokeWidth": 2.5}, "encoding": {"x": {"datum": 336, "type": "quantitative"}, "y": {"datum": 10, "type": "quantitative"}, "y2": {"datum": 20}}},
      {"data": {"values": [{}]}, "mark": {"type": "rule", "color": "#20F0F0", "strokeDash": [3, 3], "strokeDashOffset": 3, "strokeWidth": 2.5}, "encoding": {"x": {"datum": 336, "type": "quantitative"}, "y": {"datum": 10, "type": "quantitative"}, "y2": {"datum": 20}}},
      {"data": {"name": "a1"}, "mark": {"type": "line", "strokeWidth": 4},
       "encoding": {
        "x": {"field": "t", "type": "quantitative", "scale": {"domain": [-200, 1000], "nice": false, "zero": false}, "axis": {"values": [-200, 0, 200, 400, 600, 800, 1000], "title": null, "labelFontSize": 15, "labelPadding": 12}},
        "y": {"field": "v", "type": "quantitative", "scale": {"domain": [-25, 25], "nice": false, "zero": false}, "axis": {"values": [-20, -10, 0, 10, 20], "title": "Amplitude", "titleFontSize": 14, "labelFontSize": 15, "labelPadding": 10, "titlePadding": 8}},
        "color": {"field": "c", "type": "nominal", "scale": {"domain": ["Known Short A", "Known Long A", "Unknown A"], "range": ["#FF8000", "#FF4F9A", "#20F0F0"]}, "legend": {"legendX": 101, "legendY": 102, "labelFontSize": 13.5, "symbolType": "M-1.06,0H5.94", "symbolSize": 64, "symbolStrokeWidth": 4.5, "rowPadding": -2.5, "padding": 3, "labelOffset": 22.5}}
       }}
    ]
  },
  {
    "width": 792, "height": 165,
    "title": {"text": "B (Rare Cue)", "fontSize": 17, "fontWeight": "bold", "anchor": "middle", "frame": "group", "offset": 4, "dx": -16},
    "layer": [
      {"data": {"values": [{}]}, "mark": {"type": "rect", "color": "#FDF1E4"}, "encoding": {"x": {"datum": 400, "type": "quantitative"}, "x2": {"datum": 600}, "y": {"datum": 21.2, "type": "quantitative"}, "y2": {"datum": -25}}},
      {"data": {"values": [{}]}, "mark": {"type": "rule", "color": "black", "strokeDash": [2, 8], "strokeWidth": 1.5}, "encoding": {"y": {"datum": 0, "type": "quantitative"}}},
      {"data": {"values": [{}]}, "mark": {"type": "rule", "color": "black", "strokeDash": [2, 6], "strokeWidth": 2}, "encoding": {"x": {"datum": 0, "type": "quantitative"}}},
      {"data": {"values": [{}]}, "mark": {"type": "rule", "color": "#0000FF", "strokeDash": [3, 3], "strokeWidth": 2.5}, "encoding": {"x": {"datum": 452, "type": "quantitative"}, "y": {"datum": 10, "type": "quantitative"}, "y2": {"datum": 20}}},
      {"data": {"values": [{}]}, "mark": {"type": "rule", "color": "#FF0000", "strokeDash": [3, 3], "strokeDashOffset": 3, "strokeWidth": 2.5}, "encoding": {"x": {"datum": 452, "type": "quantitative"}, "y": {"datum": 10, "type": "quantitative"}, "y2": {"datum": 17}}},
      {"data": {"values": [{}]}, "mark": {"type": "rule", "color": "#FFC83D", "strokeDash": [3, 3], "strokeWidth": 2.5}, "encoding": {"x": {"datum": 467, "type": "quantitative"}, "y": {"datum": 10, "type": "quantitative"}, "y2": {"datum": 20}}},
      {"data": {"name": "a2"}, "mark": {"type": "line", "strokeWidth": 4},
       "encoding": {
        "x": {"field": "t", "type": "quantitative", "scale": {"domain": [-200, 1000], "nice": false, "zero": false}, "axis": {"values": [-200, 0, 200, 400, 600, 800, 1000], "title": "Time (ms) Post-Cue", "titleFontSize": 17, "titleFontWeight": "normal", "labelFontSize": 15, "labelPadding": 12, "titlePadding": 7}},
        "y": {"field": "v", "type": "quantitative", "scale": {"domain": [-25, 25], "nice": false, "zero": false}, "axis": {"values": [-20, -10, 0, 10, 20], "title": "Amplitude", "titleFontSize": 14, "labelFontSize": 15, "labelPadding": 10, "titlePadding": 8}},
        "color": {"field": "c", "type": "nominal", "scale": {"domain": ["Known Short B", "Known Long B", "Unknown B"], "range": ["#FF0000", "#FFC83D", "#0000FF"]}, "legend": {"legendX": 101, "legendY": 98, "labelFontSize": 13.5, "symbolType": "M-1.06,0H5.94", "symbolSize": 64, "symbolStrokeWidth": 4.5, "rowPadding": -2.5, "padding": 3, "labelOffset": 22.5}}
       }}
    ]
  }
  ]
  }
  ]
},
{
  "title": {"text": "B", "anchor": "start", "frame": "group", "fontSize": 27, "fontWeight": "normal", "dx": 23, "offset": 17},
  "spacing": 0,
  "resolve": {"scale": {"x": "independent", "y": "independent", "color": "independent"}, "legend": {"color": "independent"}},
  "hconcat": [
  {"width": 41, "height": 1, "data": {"values": []}, "mark": "point"},
  {
  "spacing": -2,
  "resolve": {"scale": {"x": "independent", "y": "independent", "color": "independent"}, "legend": {"color": "independent"}},
  "vconcat": [
  {
    "title": {"text": "Low Impulsivity", "anchor": "start", "frame": "group", "fontSize": 37, "fontWeight": "bold", "dx": 339, "offset": -10},
    "spacing": 72,
    "resolve": {"scale": {"x": "independent", "y": "independent", "color": "independent"}, "legend": {"color": "independent"}},
    "hconcat": [
    {
      "width": 384, "height": 226,
      "layer": [
        {"data": {"values": [{}]}, "mark": {"type": "rect", "color": "#FDF1E4"}, "encoding": {"x": {"datum": 400, "type": "quantitative"}, "x2": {"datum": 600}, "y": {"datum": 30, "type": "quantitative"}, "y2": {"datum": -40}}},
        {"data": {"values": [{}]}, "mark": {"type": "rule", "color": "black", "strokeDash": [2, 7], "strokeWidth": 2}, "encoding": {"y": {"datum": 0, "type": "quantitative"}}},
        {"data": {"values": [{}]}, "mark": {"type": "rule", "color": "black", "strokeDash": [2, 6], "strokeWidth": 2}, "encoding": {"x": {"datum": 0, "type": "quantitative"}}},
        {"data": {"name": "la"}, "mark": {"type": "line", "strokeWidth": 3.5},
         "encoding": {
          "x": {"field": "t", "type": "quantitative", "scale": {"domain": [-200, 880], "nice": false, "zero": false}, "axis": {"values": [-200, 0, 200, 400, 600, 800], "title": "Time (ms) Post-Cue", "titleFontSize": 22.5, "labelFontSize": 21, "labelPadding": 13, "titlePadding": 4}},
          "y": {"field": "v", "type": "quantitative", "scale": {"domain": [-40, 30], "nice": false, "zero": false}, "axis": {"values": [-40, -20, 0, 20], "title": "Amplitude", "titleFontSize": 14, "labelFontSize": 21, "labelPadding": 14, "titlePadding": 23}},
          "color": {"field": "c", "type": "nominal", "scale": {"domain": ["Known Short A", "Known Long A", "Unknown A"], "range": ["#FF8000", "#FF4F9A", "#20F0F0"]}, "legend": {"legendX": 34, "legendY": 153, "labelFontSize": 18.4, "symbolType": "M-1.65,0H4.1", "symbolSize": 100, "symbolStrokeWidth": 4.5, "rowPadding": 4, "padding": 4, "labelOffset": 16}}
         }}
      ]
    },
    {
      "width": 384, "height": 226,
      "layer": [
        {"data": {"values": [{}]}, "mark": {"type": "rect", "color": "#FDF1E4"}, "encoding": {"x": {"datum": 400, "type": "quantitative"}, "x2": {"datum": 600}, "y": {"datum": 30, "type": "quantitative"}, "y2": {"datum": -40}}},
        {"data": {"values": [{}]}, "mark": {"type": "rule", "color": "black", "strokeDash": [2, 7], "strokeWidth": 2}, "encoding": {"y": {"datum": 0, "type": "quantitative"}}},
        {"data": {"values": [{}]}, "mark": {"type": "rule", "color": "black", "strokeDash": [2, 6], "strokeWidth": 2}, "encoding": {"x": {"datum": 0, "type": "quantitative"}}},
        {"data": {"name": "lb"}, "mark": {"type": "line", "strokeWidth": 3.5},
         "encoding": {
          "x": {"field": "t", "type": "quantitative", "scale": {"domain": [-200, 880], "nice": false, "zero": false}, "axis": {"values": [-200, 0, 200, 400, 600, 800], "title": "Time (ms) Post-Cue", "titleFontSize": 22.5, "labelFontSize": 21, "labelPadding": 13, "titlePadding": 4}},
          "y": {"field": "v", "type": "quantitative", "scale": {"domain": [-40, 30], "nice": false, "zero": false}, "axis": {"values": [-40, -20, 0, 20], "title": null, "labelFontSize": 21, "labelPadding": 14}},
          "color": {"field": "c", "type": "nominal", "scale": {"domain": ["Known Short B", "Known Long B", "Unknown B"], "range": ["#FF0000", "#FFC83D", "#0000FF"]}, "legend": {"legendX": 34, "legendY": 146, "labelFontSize": 18.4, "symbolType": "M-1.65,0H4.1", "symbolSize": 100, "symbolStrokeWidth": 4.5, "rowPadding": 4, "padding": 8, "labelOffset": 16}}
         }}
      ]
    }
    ]
  },
  {
    "title": {"text": "High Impulsivity", "anchor": "start", "frame": "group", "fontSize": 37, "fontWeight": "bold", "dx": 325, "offset": -2},
    "spacing": 72,
    "resolve": {"scale": {"x": "independent", "y": "independent", "color": "independent"}, "legend": {"color": "independent"}},
    "hconcat": [
    {
      "width": 384, "height": 268,
      "layer": [
        {"data": {"values": [{}]}, "mark": {"type": "rect", "color": "#FDF1E4"}, "encoding": {"x": {"datum": 400, "type": "quantitative"}, "x2": {"datum": 600}, "y": {"datum": 30, "type": "quantitative"}, "y2": {"datum": -40}}},
        {"data": {"values": [{}]}, "mark": {"type": "rule", "color": "black", "strokeDash": [2, 7], "strokeWidth": 2}, "encoding": {"y": {"datum": 0, "type": "quantitative"}}},
        {"data": {"values": [{}]}, "mark": {"type": "rule", "color": "black", "strokeDash": [2, 6], "strokeWidth": 2}, "encoding": {"x": {"datum": 0, "type": "quantitative"}}},
        {"data": {"name": "ha"}, "mark": {"type": "line", "strokeWidth": 3.5},
         "encoding": {
          "x": {"field": "t", "type": "quantitative", "scale": {"domain": [-200, 880], "nice": false, "zero": false}, "axis": {"values": [-200, 0, 200, 400, 600, 800], "title": "Time (ms) Post-Cue", "titleFontSize": 22.5, "labelFontSize": 21, "labelPadding": 13, "titlePadding": 4}},
          "y": {"field": "v", "type": "quantitative", "scale": {"domain": [-40, 30], "nice": false, "zero": false}, "axis": {"values": [-40, -20, 0, 20], "title": "Amplitude", "titleFontSize": 14, "labelFontSize": 21, "labelPadding": 14, "titlePadding": 23}},
          "color": {"field": "c", "type": "nominal", "scale": {"domain": ["Known Short A", "Known Long A", "Unknown A"], "range": ["#FF8000", "#FF4F9A", "#20F0F0"]}, "legend": {"legendX": 33, "legendY": 194, "labelFontSize": 18.4, "symbolType": "M-1.65,0H4.1", "symbolSize": 100, "symbolStrokeWidth": 4.5, "rowPadding": 4, "padding": 4, "labelOffset": 16}}
         }}
      ]
    },
    {
      "width": 384, "height": 268,
      "layer": [
        {"data": {"values": [{}]}, "mark": {"type": "rect", "color": "#FDF1E4"}, "encoding": {"x": {"datum": 400, "type": "quantitative"}, "x2": {"datum": 600}, "y": {"datum": 30, "type": "quantitative"}, "y2": {"datum": -40}}},
        {"data": {"values": [{}]}, "mark": {"type": "rule", "color": "black", "strokeDash": [2, 7], "strokeWidth": 2}, "encoding": {"y": {"datum": 0, "type": "quantitative"}}},
        {"data": {"values": [{}]}, "mark": {"type": "rule", "color": "black", "strokeDash": [2, 6], "strokeWidth": 2}, "encoding": {"x": {"datum": 0, "type": "quantitative"}}},
        {"data": {"name": "hb"}, "mark": {"type": "line", "strokeWidth": 3.5},
         "encoding": {
          "x": {"field": "t", "type": "quantitative", "scale": {"domain": [-200, 880], "nice": false, "zero": false}, "axis": {"values": [-200, 0, 200, 400, 600, 800], "title": "Time (ms) Post-Cue", "titleFontSize": 22.5, "labelFontSize": 21, "labelPadding": 13, "titlePadding": 4}},
          "y": {"field": "v", "type": "quantitative", "scale": {"domain": [-40, 30], "nice": false, "zero": false}, "axis": {"values": [-40, -20, 0, 20], "title": null, "labelFontSize": 21, "labelPadding": 14}},
          "color": {"field": "c", "type": "nominal", "scale": {"domain": ["Known Short B", "Known Long B", "Unknown B"], "range": ["#FF0000", "#FFC83D", "#0000FF"]}, "legend": {"legendX": 28, "legendY": 191, "labelFontSize": 18.4, "symbolType": "M-1.65,0H4.1", "symbolSize": 100, "symbolStrokeWidth": 4.5, "rowPadding": 4, "padding": 6, "labelOffset": 16}}
         }}
      ]
    }
    ]
  }
  ]
  }
  ]
}
]
}
